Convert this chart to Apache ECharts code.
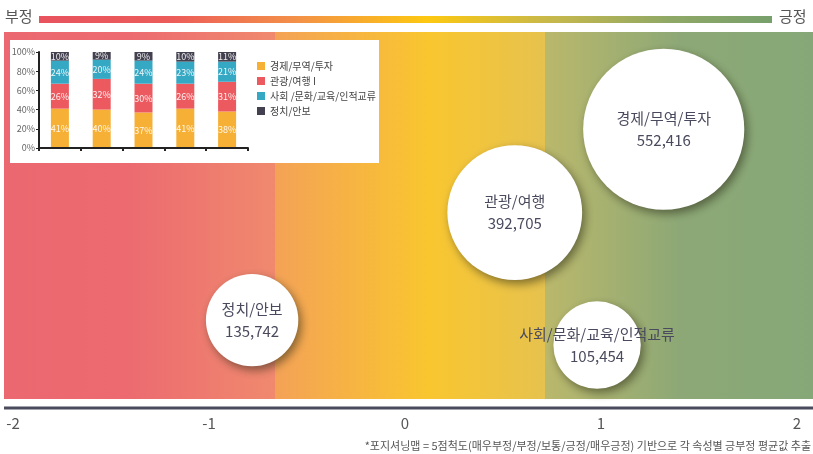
<!DOCTYPE html>
<html>
<head>
<meta charset="utf-8">
<script src="https://cdn.jsdelivr.net/npm/echarts@6/dist/echarts.min.js"></script>
<style>
    html, body { margin: 0; padding: 0; background: #fff; }
    #chart { width: 813px; height: 454px; }
</style>
</head>
<body>
<div id="chart"></div>
<script>
// bubble map data
var topics = ['경제/무역/투자', '관광/여행', '정치/안보', '사회/문화/교육/인적교류'];
var sentiment = [1.32, 0.56, -0.78, 0.98];     // x: 부정(-2) ~ 긍정(2)
var spread = [73.5, 50.8, 21.5, 14.7];         // y: layout only
var mentions = [552416, 392705, 135742, 105454];
var xTicks = [-2, -1, 0, 1, 2];

// inset stacked bars
var groups = ['1', '2', '3', '4', '5'];
var barNames = ['경제/무역/투자', '관광/여행 I', '사회 /문화/교육/인적교류', '정치/안보'];
var economy = [41, 40, 37, 41, 38];
var tourism = [26, 32, 30, 26, 31];
var society = [24, 20, 24, 23, 21];
var politics = [10, 9, 9, 10, 11];
var pctTicks = [0, 20, 40, 60, 80, 100];

var barColors = ['#F7B036', '#EC5A60', '#35A8C4', '#43404F'];
var font = '"Noto Sans CJK KR", "Noto Sans", sans-serif';

var chart = echarts.init(document.getElementById('chart'));

var bubbleData = topics.map(function (t, i) {
    return {name: t, value: [sentiment[i], spread[i], mentions[i]]};
});

function comma(n) {
    return String(n).replace(/\B(?=(\d{3})+(?!\d))/g, ',');
}

var barSeries = [economy, tourism, society, politics].map(function (vals, i) {
    return {
        name: barNames[i],
        type: 'bar',
        stack: 'share',
        xAxisIndex: 1,
        yAxisIndex: 1,
        barWidth: 18,
        z: 5,
        itemStyle: {color: barColors[i]},
        label: {
            show: true,
            position: 'inside',
            formatter: '{c}%',
            fontSize: 9,
            fontFamily: font,
            color: 'rgba(255,255,255,0.9)'
        },
        data: vals
    };
});

function band(x, w, stops) {
    return {
        type: 'rect',
        z: -10,
        shape: {x: x, y: 32, width: w, height: 367},
        style: {fill: new echarts.graphic.LinearGradient(0, 0, 1, 0, stops)},
        silent: true
    };
}

var option = {
    animation: false,
    textStyle: {fontFamily: font},
    graphic: [
        band(4, 271, [
            {offset: 0, color: '#EC6870'},
            {offset: 0.45, color: '#EC6A70'},
            {offset: 1, color: '#F0896E'}
        ]),
        band(275, 270, [
            {offset: 0, color: '#F4A256'},
            {offset: 0.57, color: '#F9C62F'},
            {offset: 1, color: '#E6C24E'}
        ]),
        band(545, 268, [
            {offset: 0, color: '#BAB86B'},
            {offset: 0.5, color: '#8DA876'},
            {offset: 1, color: '#86A878'}
        ]),
        {
            type: 'rect', z: -10,
            shape: {x: 39, y: 16, width: 733, height: 7},
            style: {
                fill: new echarts.graphic.LinearGradient(0, 0, 1, 0, [
                    {offset: 0, color: '#E8535E'},
                    {offset: 0.18, color: '#EC5C5A'},
                    {offset: 0.35, color: '#F39048'},
                    {offset: 0.53, color: '#FDC811'},
                    {offset: 0.7, color: '#C6B84C'},
                    {offset: 0.86, color: '#8FA866'},
                    {offset: 1, color: '#78A06C'}
                ])
            }
        },
        {
            type: 'text', left: 5, top: 9,
            style: {text: '부정', font: '15px ' + font, fill: '#555'}
        },
        {
            type: 'text', left: 779, top: 9,
            style: {text: '긍정', font: '15px ' + font, fill: '#555'}
        },
        {
            type: 'line', z: -5,
            shape: {x1: 4, y1: 408, x2: 813, y2: 408},
            style: {stroke: '#4B4B5E', lineWidth: 3}
        },
        {
            type: 'text', right: 2, top: 440,
            style: {
                text: '*포지셔닝맵 = 5점척도(매우부정/부정/보통/긍정/매우긍정) 기반으로 각 속성별 긍부정 평균값 추출',
                font: '11px ' + font, fill: '#555'
            }
        },
        {
            type: 'rect', z: -1,
            shape: {x: 10, y: 40, width: 369, height: 123},
            style: {fill: '#fff'}
        }
    ],
    legend: {
        data: barNames,
        orient: 'vertical',
        left: 252,
        top: 56,
        icon: 'rect',
        itemWidth: 8,
        itemHeight: 8,
        itemGap: 5,
        textStyle: {fontSize: 10, color: '#444', fontFamily: font}
    },
    grid: [
        {left: 13, right: 16, top: 32, bottom: 55},
        {left: 39, right: 565, top: 52, bottom: 306}
    ],
    xAxis: [
        {
            type: 'value',
            gridIndex: 0,
            min: xTicks[0],
            max: xTicks[xTicks.length - 1],
            interval: 1,
            axisLine: {show: false},
            axisTick: {show: false},
            splitLine: {show: false},
            axisLabel: {
                margin: 17,
                fontSize: 15,
                color: '#555',
                fontFamily: font
            }
        },
        {
            type: 'category',
            gridIndex: 1,
            data: groups,
            z: 6,
            axisLine: {lineStyle: {color: '#222', width: 2}},
            axisTick: {show: true, length: 3, lineStyle: {color: '#222', width: 2}},
            axisLabel: {show: false}
        }
    ],
    yAxis: [
        {
            type: 'value',
            gridIndex: 0,
            min: 0,
            max: 100,
            show: false
        },
        {
            type: 'value',
            gridIndex: 1,
            min: pctTicks[0],
            max: pctTicks[pctTicks.length - 1],
            interval: 20,
            z: 6,
            splitLine: {show: false},
            axisLine: {show: true, lineStyle: {color: '#222', width: 2}},
            axisTick: {show: true, length: 3, lineStyle: {color: '#222'}},
            axisLabel: {
                formatter: '{value}%',
                fontSize: 9,
                margin: 4,
                color: '#666',
                fontFamily: font
            }
        }
    ],
    series: [
        {
            name: 'bubbles',
            type: 'scatter',
            xAxisIndex: 0,
            yAxisIndex: 0,
            z: 3,
            data: bubbleData,
            symbolSize: function (val) {
                // bubble diameter grows with mention count
                return 70 + val[2] * 1.65e-4;
            },
            itemStyle: {
                color: '#fff',
                opacity: 1,
                shadowBlur: 10,
                shadowOffsetX: 3,
                shadowOffsetY: 4,
                shadowColor: 'rgba(40,40,20,0.55)'
            },
            label: {
                show: true,
                position: 'inside',
                formatter: function (p) {
                    return p.name + '\n' + comma(p.value[2]);
                },
                fontSize: 15,
                lineHeight: 22,
                color: '#4A4A5E',
                fontFamily: font
            }
        }
    ].concat(barSeries)
};

chart.setOption(option);
</script>
</body>
</html>
